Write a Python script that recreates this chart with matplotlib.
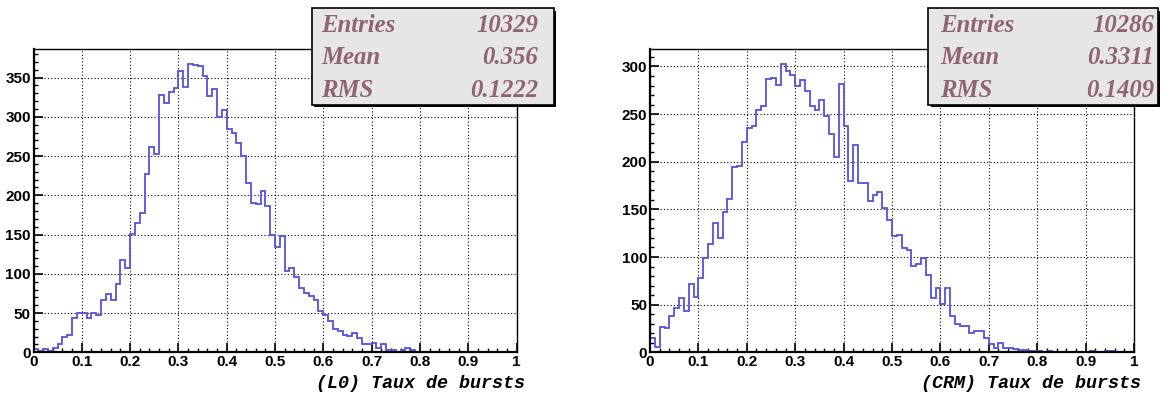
import numpy as np
import matplotlib
matplotlib.use("Agg")
import matplotlib.pyplot as plt
from matplotlib.patches import Rectangle
from matplotlib.ticker import MultipleLocator

# ---- data (bin contents, 100 bins of width 0.01 on [0,1]) ----
l0_counts = [4, 2, 4, 2, 6, 11, 20, 22, 44, 50,
             50, 44, 50, 48, 67, 74, 67, 87, 117, 107,
             151, 165, 178, 227, 262, 252, 328, 317, 332, 337,
             358, 338, 367, 366, 365, 352, 326, 335, 300, 309,
             285, 279, 266, 250, 216, 190, 189, 206, 187, 150,
             134, 148, 104, 107, 96, 82, 76, 72, 66, 52,
             48, 40, 30, 27, 22, 21, 24, 18, 11, 11,
             12, 5, 10, 3, 3, 1, 3, 6, 3, 1,
             0, 1, 1, 0, 1, 0, 0, 0, 0, 0,
             0, 0, 1, 1, 1, 0, 1, 0, 0, 0]
crm_counts = [15, 6, 27, 25, 38, 47, 57, 43, 72, 58,
              78, 99, 114, 136, 120, 147, 161, 194, 196, 221,
              235, 238, 254, 258, 287, 288, 281, 303, 295, 291,
              279, 286, 274, 259, 254, 265, 248, 229, 205, 282,
              238, 180, 218, 178, 178, 159, 165, 168, 151, 139,
              122, 123, 109, 107, 91, 93, 99, 81, 57, 67,
              51, 68, 38, 30, 28, 28, 20, 22, 22, 15,
              9, 5, 10, 4, 4, 3, 2, 2, 1, 1,
              1, 0, 1, 0, 0, 0, 0, 0, 0, 0,
              0, 1, 0, 0, 1, 1, 0, 0, 0, 0]
bin_edges = np.linspace(0.0, 1.0, 101)

x_labels = ["(L0) Taux de bursts", "(CRM) Taux de bursts"]
stat_names = ["Entries", "Mean", "RMS"]
l0_stats = ["10329", "0.356", "0.1222"]
crm_stats = ["10286", "0.3311", "0.1409"]
y_max = [386, 318]

W, H = 1161, 393
fig = plt.figure(figsize=(W / 100, H / 100), dpi=100)
fig.patch.set_facecolor("white")

def fx(px):
    return px / W

def fy(py):
    return 1 - py / H

axes_px = [(33.5, 516.5), (650, 1134)]
bottom_px, top_px = 352.3, 49.3
line_color = "#5252e0"
stat_color = "#8f6470"

hists = [l0_counts, crm_counts]
stats = [l0_stats, crm_stats]
boxes = [(311.7, 553.5, 8, 104.5, 321.5, 538), (928.3, 1157.5, 8, 104.5, 940, 1154)]
label_right_px = [525.5, 1141]

for i in range(2):
    x0, x1 = axes_px[i]
    ax = fig.add_axes([fx(x0), fy(bottom_px), fx(x1 - x0), (bottom_px - top_px) / H])
    ax.stairs(hists[i], bin_edges, color=line_color, lw=1.3)
    ax.set_xlim(0, 1)
    ax.set_ylim(0, y_max[i])
    ax.xaxis.set_minor_locator(MultipleLocator(0.02))
    ax.yaxis.set_major_locator(MultipleLocator(50))
    ax.yaxis.set_minor_locator(MultipleLocator(10))
    ax.set_xticks(np.arange(0, 1.01, 0.1))
    ax.set_xticklabels(["0"] + [f"{v:.1f}" for v in np.arange(0.1, 0.95, 0.1)] + ["1"])
    ax.tick_params(which="both", direction="in", top=False, right=False)
    ax.tick_params(which="major", length=6.5, width=1.2)
    ax.tick_params(which="minor", length=3.2, width=1.0)
    ax.tick_params(axis="x", pad=2)
    ax.tick_params(axis="y", pad=2)
    for lab in ax.get_xticklabels() + ax.get_yticklabels():
        lab.set_fontfamily("Liberation Sans")
        lab.set_fontweight("bold")
        lab.set_fontsize(11)
    ax.grid(True, which="major", color="black", linestyle=(0, (1, 2)), lw=0.8)
    ax.set_axisbelow(True)
    for s in ["left", "bottom"]:
        ax.spines[s].set_linewidth(1.6)
    for s in ["top", "right"]:
        ax.spines[s].set_linewidth(1.0)

    fig.text(fx(label_right_px[i]), fy(388), x_labels[i], ha="right", va="baseline",
             fontfamily="Liberation Mono", fontweight="bold", fontstyle="italic",
             fontsize=13.2)

    bx0, bx1, by0, by1, tx_l, tx_r = boxes[i]
    shadow = Rectangle((fx(bx0 + 2.5), fy(by1 + 2.5)), fx(bx1 - bx0), (by1 - by0) / H,
                       transform=fig.transFigure, facecolor="black", edgecolor="black",
                       lw=0, zorder=10)
    box = Rectangle((fx(bx0), fy(by1)), fx(bx1 - bx0), (by1 - by0) / H,
                    transform=fig.transFigure, facecolor="#e6e6e6", edgecolor="black",
                    lw=1.2, zorder=11)
    fig.add_artist(shadow)
    fig.add_artist(box)
    baselines = [32, 64.5, 97]
    for name, val, b in zip(stat_names, stats[i], baselines):
        fig.text(fx(tx_l), fy(b), name, ha="left", va="baseline", color=stat_color,
                 fontfamily="Liberation Serif", fontweight="bold", fontstyle="italic",
                 fontsize=17.8, zorder=12)
        fig.text(fx(tx_r), fy(b), val, ha="right", va="baseline", color=stat_color,
                 fontfamily="Liberation Serif", fontweight="bold", fontstyle="italic",
                 fontsize=17.8, zorder=12)

fig.savefig("out.png", dpi=100)
